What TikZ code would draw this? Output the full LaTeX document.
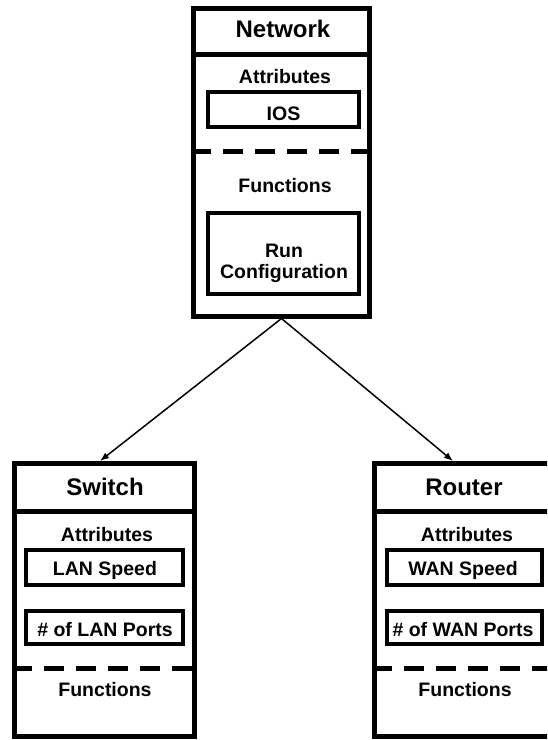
\documentclass[tikz,border=0pt]{standalone}
\usepackage{fontspec}
\setmainfont{Liberation Sans}
\usetikzlibrary{arrows.meta}

\begin{document}
\begin{tikzpicture}[x=1pt,y=-1pt,
  classbox/.style={draw,line width=5pt,minimum width=180pt,minimum height=273pt,inner sep=0pt},
  fieldbox/.style={draw,line width=4pt,inner sep=0pt},
  titletext/.style={anchor=base,font=\fontsize{24}{28}\selectfont\bfseries},
  bodytext/.style={anchor=base,align=center,font=\fontsize{19.5}{21}\selectfont\bfseries},
  divider/.style={line width=5pt},
  dashdivider/.style={line width=5pt,dash pattern=on 20pt off 12pt},
  link/.style={line width=1.5pt,-{Latex[length=9pt,width=7pt]}}]
\useasboundingbox (0,0) rectangle (547,740);
\clip (0,0) rectangle (547,740);

% Network
\node[classbox,minimum width=176pt,minimum height=307.5pt] (net) at (281.5,162.25) {};
\node[fieldbox,minimum width=151pt,minimum height=35pt] (ios) at (283.5,109.5) {};
\node[fieldbox,minimum width=151pt,minimum height=81pt] (run) at (283.5,253) {};
\draw[divider] (net.west |- 0,54.5) -- (net.east |- 0,54.5);
\draw[dashdivider] (net.west |- 0,151) -- (net.east |- 0,151);
\node[titletext] (nettitle) at (283,37) {Network};
\node[bodytext] (netattr) at (285,83) {Attributes};
\node[bodytext] (iostext) at (283.5,120) {IOS};
\node[bodytext] (netfunc) at (285,192) {Functions};
\node[bodytext] (runtext) at (284,278) {Run\\Configuration};

% Switch
\node[classbox] (switch) at (104.5,600) {};
\node[fieldbox,minimum width=156.5pt,minimum height=35pt] (lanspeed) at (104.25,567) {};
\node[fieldbox,minimum width=156.5pt,minimum height=33pt] (lanports) at (104.25,627) {};
\draw[divider] (switch.west |- 0,511) -- (switch.east |- 0,511);
\draw[dashdivider] (switch.west |- 0,668) -- (switch.east |- 0,668);
\node[titletext] (switchtitle) at (105,495) {Switch};
\node[bodytext] (switchattr) at (107,541) {Attributes};
\node[bodytext] (lanspeedtext) at (105,575) {LAN Speed};
\node[bodytext] (lanportstext) at (105,636) {\# of LAN Ports};
\node[bodytext] (switchfunc) at (105,696) {Functions};

% Router
\node[classbox] (router) at (464.5,600) {};
\node[fieldbox,minimum width=155pt,minimum height=35pt] (wanspeed) at (464.5,567) {};
\node[fieldbox,minimum width=155pt,minimum height=33pt] (wanports) at (464.5,627) {};
\draw[divider] (router.west |- 0,511) -- (router.east |- 0,511);
\draw[dashdivider] (router.west |- 0,668) -- (router.east |- 0,668);
\node[titletext] (routertitle) at (464,495) {Router};
\node[bodytext] (routerattr) at (467,541) {Attributes};
\node[bodytext] (wanspeedtext) at (463,575) {WAN Speed};
\node[bodytext] (wanportstext) at (463,636) {\# of WAN Ports};
\node[bodytext] (routerfunc) at (465,696) {Functions};

\draw[link] (net.south) -- ([xshift=-4.5pt]switch.north);
\draw[link] (net.south) -- ([xshift=-11.5pt]router.north);
\end{tikzpicture}
\end{document}
